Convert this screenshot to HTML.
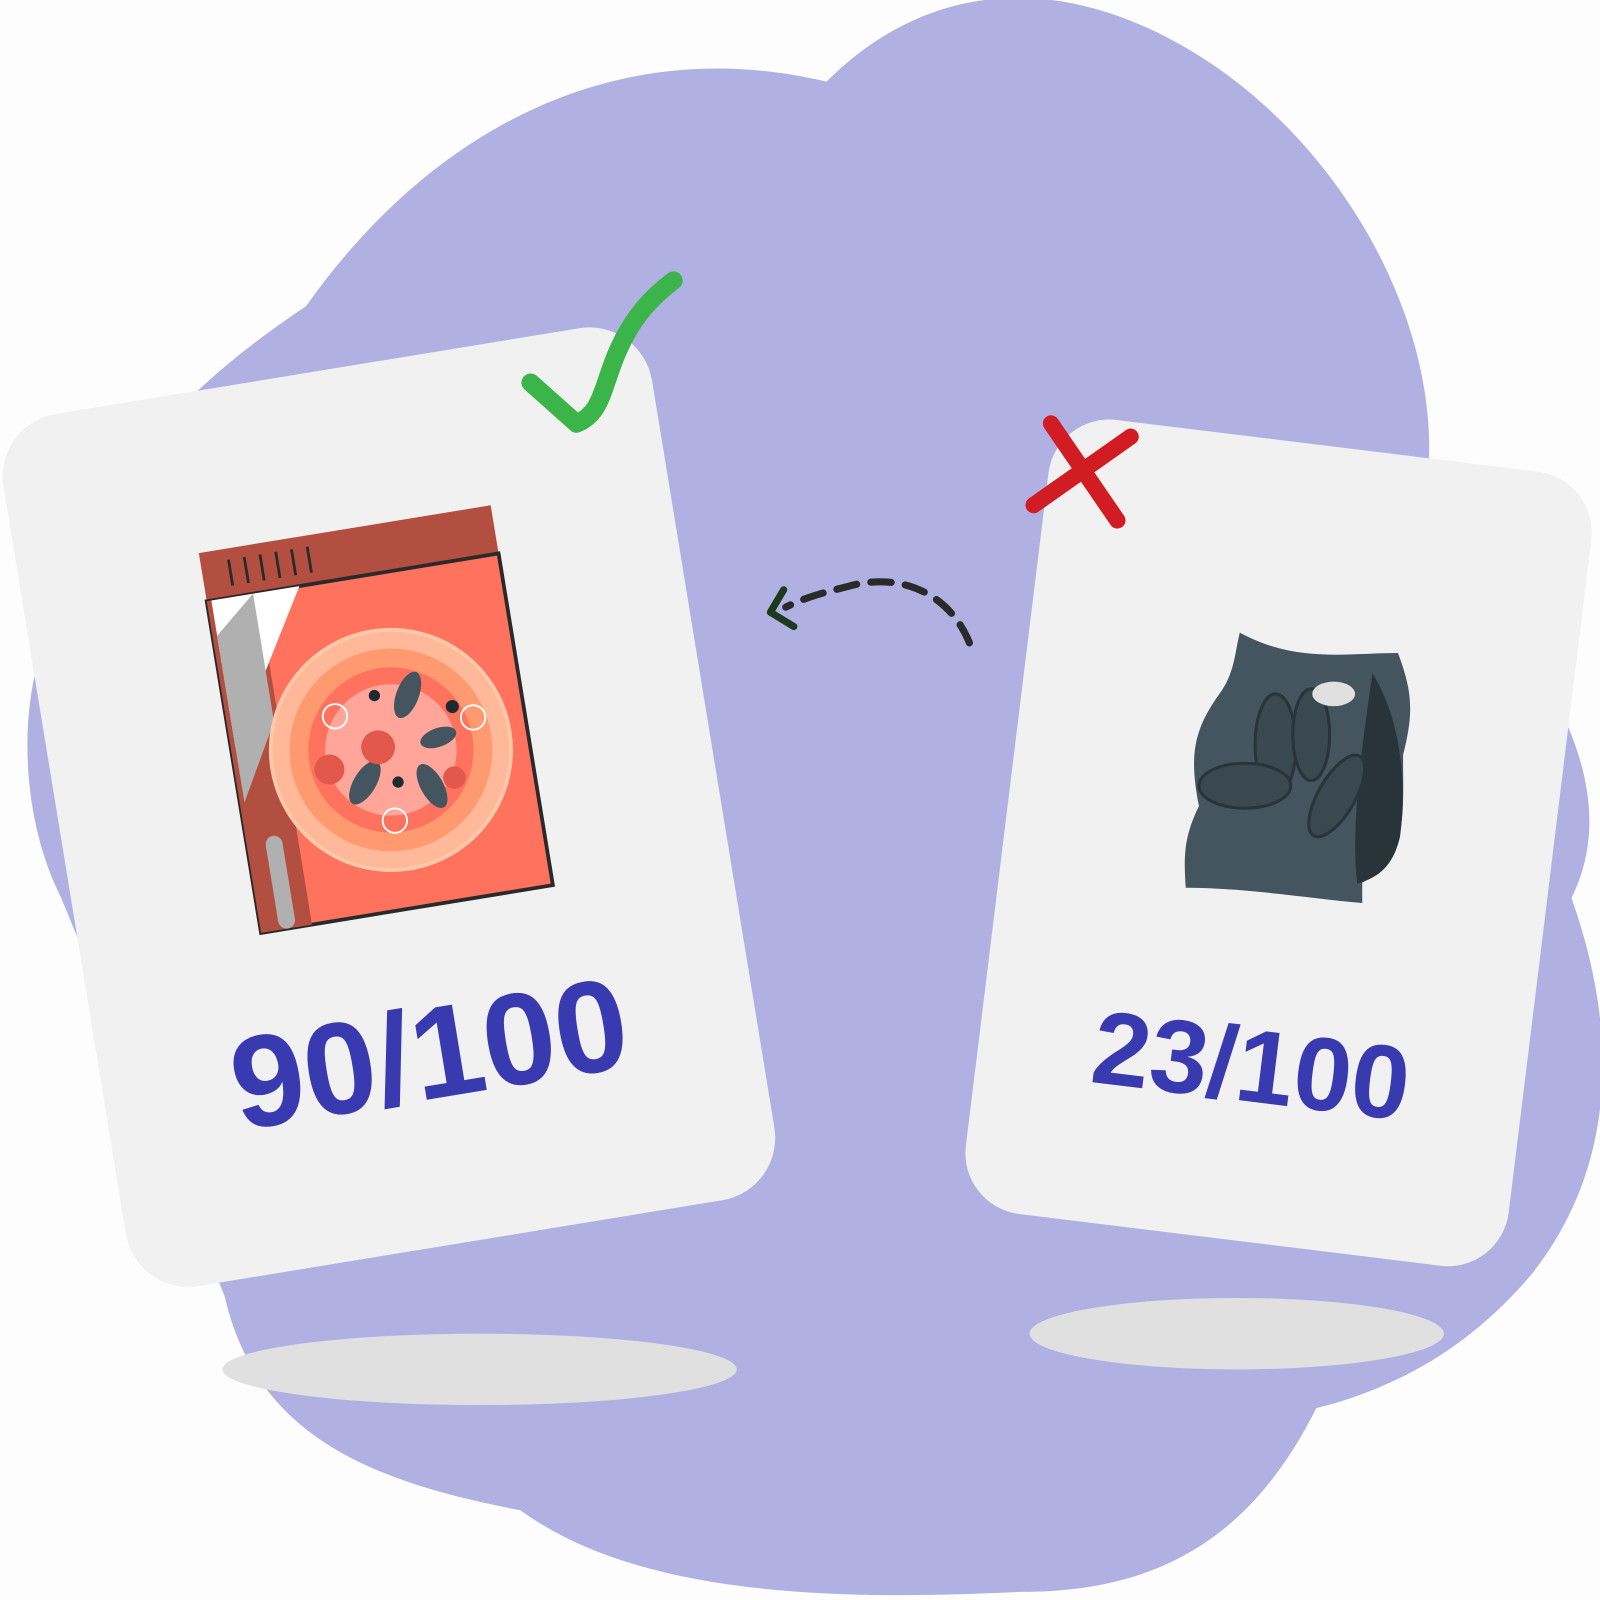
<!DOCTYPE html>
<html><head><meta charset="utf-8"><style>html,body{margin:0;padding:0;background:#fdfdfd}svg{display:block}</style></head>
<body>
<svg width="1600" height="1600" viewBox="0 0 1568 1568" xmlns="http://www.w3.org/2000/svg">
<rect width="1568" height="1568" fill="#fdfdfd"/>
<path fill="#b0b0e3" d="M300,300 C420,130 600,30 810,80 C900,-10 1020,-30 1150,40 C1300,120 1410,300 1400,460 L1510,660 C1570,760 1565,830 1540,880 C1590,1020 1580,1150 1500,1250 C1440,1320 1370,1360 1290,1380 C1220,1520 1120,1560 1000,1560 C800,1570 620,1560 510,1480 C350,1450 250,1400 220,1270 L60,880 C20,800 20,700 40,640 C80,480 180,380 300,300 Z"/>
<ellipse cx="470" cy="1342" rx="252" ry="35" fill="#e0e0e0"/>
<ellipse cx="1212" cy="1307" rx="203" ry="35" fill="#e0e0e0"/>
<g transform="translate(381,790) rotate(-9.3)">
<rect x="-322" y="-432" width="644" height="866" rx="62" fill="#f1f1f1"/>
<text x="0" y="290" text-anchor="middle" font-family="Liberation Sans, sans-serif" font-weight="bold" font-size="128" fill="#3a3ab0">90/100</text>
<g transform="translate(22,-8) scale(0.92)">
<rect x="-180" y="-290" width="315" height="410" fill="#b34f40"/>
<rect x="-180" y="-238" width="315" height="358" fill="#ff735e" stroke="#2a2a2a" stroke-width="4"/>
<rect x="-180" y="-238" width="55" height="358" fill="#b34f40"/>
<polygon points="-175,-238 -80,-238 -175,-80" fill="#ffffff"/>
<polygon points="-175,-200 -130,-238 -130,-100 -175,-20" fill="#b0b0b0"/>
<rect x="-160" y="20" width="18" height="100" rx="9" fill="#b0b0b0"/>
<g stroke="#2a2a2a" stroke-width="3"><line x1="-150" y1="-278" x2="-150" y2="-250"/><line x1="-133" y1="-278" x2="-133" y2="-250"/><line x1="-116" y1="-278" x2="-116" y2="-250"/><line x1="-99" y1="-278" x2="-99" y2="-250"/><line x1="-82" y1="-278" x2="-82" y2="-250"/><line x1="-65" y1="-278" x2="-65" y2="-250"/></g>
<circle cx="-12" cy="-50" r="128" fill="#ffb89a" stroke="#ffc9a8" stroke-width="4"/>
<circle cx="-12" cy="-50" r="108" fill="#ff9a70"/>
<circle cx="-12" cy="-50" r="88" fill="#ff735e"/>
<circle cx="-12" cy="-50" r="70" fill="#ffa59a"/>
<ellipse cx="15" cy="-105" rx="12" ry="26" fill="#44555f" transform="rotate(30 15 -105)"/>
<ellipse cx="-45" cy="-20" rx="12" ry="26" fill="#44555f" transform="rotate(40 -45 -20)"/>
<ellipse cx="25" cy="-5" rx="12" ry="26" fill="#44555f" transform="rotate(-20 25 -5)"/>
<ellipse cx="40" cy="-55" rx="10" ry="20" fill="#44555f" transform="rotate(80 40 -55)"/>
<circle cx="-25" cy="-55" r="18" fill="#e2584a"/><circle cx="-80" cy="-40" r="16" fill="#e2584a"/><circle cx="50" cy="-10" r="12" fill="#e2584a"/>
<circle cx="-20" cy="-110" r="6" fill="#1e2a30"/><circle cx="60" cy="-85" r="7" fill="#1e2a30"/><circle cx="-10" cy="-15" r="6" fill="#1e2a30"/>
<g fill="none" stroke="#fff" stroke-width="2"><circle cx="-65" cy="-95" r="13"/><circle cx="80" cy="-70" r="13"/><circle cx="-20" cy="25" r="13"/></g>
</g>
</g>
<g transform="translate(1253,826) rotate(7)">
<rect x="-268" y="-392" width="536" height="784" rx="60" fill="#f1f1f1"/>
<text x="0" y="255" text-anchor="middle" font-family="Liberation Sans, sans-serif" font-weight="bold" font-size="102" fill="#3a3ab0">23/100</text>
</g>
<g>
<path d="M1215,620 C1270,650 1320,640 1370,640 C1385,680 1385,700 1375,740 C1375,800 1380,840 1335,865 L1335,885 C1280,880 1220,870 1162,870 C1160,840 1160,820 1175,790 C1165,740 1170,715 1195,680 C1210,660 1210,640 1215,620 Z" fill="#44555f"/>
<path d="M1345,660 C1370,700 1380,760 1372,820 C1365,850 1350,860 1330,866 C1325,820 1330,760 1345,660 Z" fill="#29343a"/>
<g fill="#3a4850" stroke="#29343a" stroke-width="3"><ellipse cx="1250" cy="730" rx="20" ry="50"/><ellipse cx="1285" cy="720" rx="18" ry="45"/><ellipse cx="1220" cy="770" rx="45" ry="22"/><ellipse cx="1310" cy="780" rx="18" ry="45" transform="rotate(30 1310 780)"/></g>
<ellipse cx="1307" cy="680" rx="21" ry="12" fill="#e0e0e0"/>
</g>
<path d="M520,375 L565,415 C590,405 590,380 605,345 C620,310 640,290 660,275" fill="none" stroke="#3bb54a" stroke-width="18" stroke-linecap="round" stroke-linejoin="round"/>
<g stroke="#d01c22" stroke-width="16" stroke-linecap="round"><line x1="1030" y1="415" x2="1095" y2="510"/><line x1="1013" y1="495" x2="1108" y2="428"/></g>
<path d="M950,630 C930,580 880,560 830,575 C810,580 790,585 770,595" fill="none" stroke="#2a2a2a" stroke-width="7" stroke-dasharray="20,14" stroke-linecap="round"/>
<path d="M768,578 L755,600 L778,614" fill="none" stroke="#1e3a1e" stroke-width="7" stroke-linecap="round" stroke-linejoin="round"/>
</svg>
</body></html>
